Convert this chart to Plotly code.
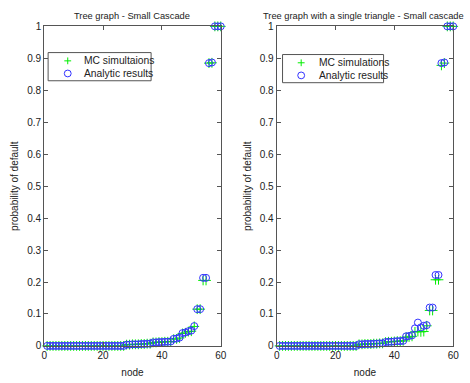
import plotly.graph_objects as go

nodes = list(range(1, 61))

tree_analytic = [0.0]*27 + [0.004, 0.004, 0.005, 0.005, 0.005, 0.006, 0.006, 0.007, 0.007,
                            0.011, 0.011, 0.012, 0.012, 0.013, 0.013, 0.014,
                            0.022, 0.023, 0.026, 0.040, 0.042, 0.046, 0.048, 0.062,
                            0.115, 0.115, 0.213, 0.213, 0.885, 0.887, 1.0, 1.0, 1.0]
tree_mc = [0.0]*27 + [0.004, 0.004, 0.005, 0.005, 0.005, 0.006, 0.006, 0.007, 0.007,
                      0.011, 0.011, 0.012, 0.012, 0.013, 0.013, 0.014,
                      0.021, 0.022, 0.025, 0.039, 0.041, 0.045, 0.046, 0.061,
                      0.115, 0.115, 0.205, 0.205, 0.885, 0.886, 1.0, 1.0, 1.0]

tri_analytic = [0.0]*27 + [0.005, 0.005, 0.006, 0.006, 0.006, 0.007, 0.007, 0.008, 0.008,
                           0.012, 0.013, 0.013, 0.014, 0.015, 0.015, 0.016,
                           0.030, 0.031, 0.033, 0.055, 0.073, 0.058, 0.063, 0.065,
                           0.120, 0.120, 0.222, 0.222, 0.885, 0.887, 1.0, 1.0, 1.0]
tri_mc = [0.0]*27 + [0.005, 0.005, 0.006, 0.006, 0.006, 0.007, 0.007, 0.008, 0.008,
                     0.012, 0.013, 0.013, 0.014, 0.015, 0.015, 0.016,
                     0.027, 0.028, 0.030, 0.044, 0.045, 0.044, 0.045, 0.063,
                     0.111, 0.111, 0.207, 0.207, 0.878, 0.885, 1.0, 1.0, 1.0]

x_ticks = [0, 20, 40, 60]
y_ticks = [0, 0.1, 0.2, 0.3, 0.4, 0.5, 0.6, 0.7, 0.8, 0.9, 1]
y_tick_labels = ["0", "0.1", "0.2", "0.3", "0.4", "0.5", "0.6", "0.7", "0.8", "0.9", "1"]

titles = ["Tree graph - Small Cascade", "Tree graph with a single triangle - Small cascade"]
mc_names = ["MC simultaions", "MC simulations"]
an_name = "Analytic results"

GREEN = "#00ee00"
BLUE = "#3333ff"
AX = "#555555"
FONT = "Liberation Sans, Arial, sans-serif"
W, H = 470, 383

fig = go.Figure()

def add_pair(mc, an, mc_name, xa, ya):
    fig.add_trace(go.Scatter(x=nodes, y=mc, mode="markers", name=mc_name,
                             xaxis=xa, yaxis=ya, showlegend=False, cliponaxis=False,
                             marker=dict(symbol="cross-thin", size=7, color=GREEN,
                                         line=dict(color=GREEN, width=1))))
    fig.add_trace(go.Scatter(x=nodes, y=an, mode="markers", name=an_name,
                             xaxis=xa, yaxis=ya, showlegend=False, cliponaxis=False,
                             marker=dict(symbol="circle-open", size=7, color=BLUE,
                                         line=dict(color=BLUE, width=1))))

add_pair(tree_mc, tree_analytic, mc_names[0], "x", "y")
add_pair(tri_mc, tri_analytic, mc_names[1], "x2", "y2")

ax_common = dict(showgrid=False, zeroline=False, showline=True, linecolor=AX,
                 linewidth=1, mirror="ticks", ticks="inside", ticklen=4,
                 tickcolor=AX, tickfont=dict(size=10, color="#222222"))
yd = [1 - 351/H, 1 - 22/H]
tfont = dict(size=10, color="#222222")

def px(x):
    return x / W

def py(y):
    return 1 - y / H

shapes = []
annotations = []
# manual legends (box, symbols drawn as shapes, labels)
legends = [(46, 49, 151, 78, 66, 81, mc_names[0]), (285, 51, 388, 80, 304, 320, mc_names[1])]
for (x0, y0, x1, y1, sx, tx, mname) in legends:
    shapes.append(dict(type="rect", xref="paper", yref="paper", x0=px(x0), x1=px(x1),
                       y0=py(y1), y1=py(y0), line=dict(color=AX, width=1), fillcolor="white",
                       layer="above"))
    r1 = y0 + 8.5
    r2 = y0 + 21.5
    s = 3.5
    shapes += [
        dict(type="line", xref="paper", yref="paper", x0=px(sx - s), x1=px(sx + s),
             y0=py(r1), y1=py(r1), line=dict(color=GREEN, width=1), layer="above"),
        dict(type="line", xref="paper", yref="paper", x0=px(sx), x1=px(sx),
             y0=py(r1 - s), y1=py(r1 + s), line=dict(color=GREEN, width=1), layer="above"),
        dict(type="circle", xref="paper", yref="paper", x0=px(sx - s), x1=px(sx + s),
             y0=py(r2 + s), y1=py(r2 - s), line=dict(color=BLUE, width=1), layer="above"),
    ]
    annotations += [
        dict(text=mname, x=px(tx), y=py(r1), xref="paper", yref="paper", showarrow=False,
             xanchor="left", yanchor="middle", font=dict(size=10.3, color="#222222")),
        dict(text=an_name, x=px(tx), y=py(r2), xref="paper", yref="paper", showarrow=False,
             xanchor="left", yanchor="middle", font=dict(size=10.3, color="#222222")),
    ]

annotations += [
    dict(text=titles[0], x=px(132), y=py(11), xref="paper", yref="paper",
         showarrow=False, xanchor="center", yanchor="middle", font=dict(size=9.3, color="#222222")),
    dict(text=titles[1], x=px(368), y=py(11), xref="paper", yref="paper",
         showarrow=False, xanchor="center", yanchor="middle", font=dict(size=9.3, color="#222222")),
]

fig.update_layout(
    width=W, height=H, margin=dict(l=0, r=0, t=0, b=0),
    paper_bgcolor="white", plot_bgcolor="white",
    font=dict(family=FONT, size=10, color="#222222"),
    showlegend=False,
    xaxis=dict(domain=[px(42), px(222)], range=[0, 60], tickvals=x_ticks,
               title=dict(text="node", standoff=9, font=tfont), anchor="y", **ax_common),
    yaxis=dict(domain=yd, range=[0, 1], tickvals=y_ticks, ticktext=y_tick_labels,
               title=dict(text="probability of default", standoff=6, font=tfont), anchor="x", **ax_common),
    xaxis2=dict(domain=[px(279), px(459)], range=[0, 60], tickvals=x_ticks,
                title=dict(text="node", standoff=9, font=tfont), anchor="y2", **ax_common),
    yaxis2=dict(domain=yd, range=[0, 1], tickvals=y_ticks, ticktext=y_tick_labels,
                title=dict(text="probability of default", standoff=6, font=tfont), anchor="x2", **ax_common),
    shapes=shapes,
    annotations=annotations,
)

fig.write_html("out.html")
